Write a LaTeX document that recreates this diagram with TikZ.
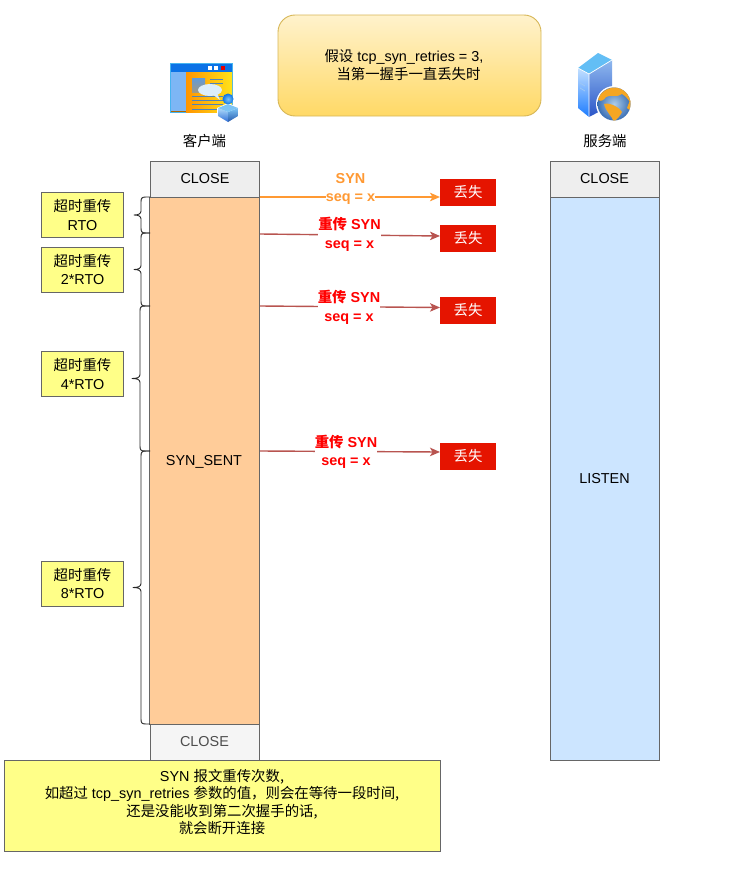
\documentclass[tikz,border=0pt]{standalone}
\usepackage{fontspec}
\setmainfont{Liberation Sans}
\newfontfamily\cjk{Noto Sans CJK SC}
\newcommand{\zh}[1]{{\cjk #1}}
\usetikzlibrary{arrows.meta,calc}
\definecolor{edgegrey}{HTML}{666666}
\definecolor{closefill}{HTML}{EEEEEE}
\definecolor{closefilltwo}{HTML}{F5F5F5}
\definecolor{closetext}{HTML}{4D4D4D}
\definecolor{sentfill}{HTML}{FFCC99}
\definecolor{listenfill}{HTML}{CCE5FF}
\definecolor{notefill}{HTML}{FFFF88}
\definecolor{lostred}{HTML}{E51400}
\definecolor{firstarrow}{HTML}{FF9933}
\definecolor{retryarrow}{HTML}{B85450}
\definecolor{gradtop}{HTML}{FFF2CC}
\definecolor{gradbot}{HTML}{FFD966}
\definecolor{gradedge}{HTML}{D6B656}
\definecolor{iconbar}{HTML}{0B72E6}
\definecolor{iconedge}{HTML}{45B4F0}
\definecolor{iconpane}{HTML}{7DB6F5}
\definecolor{iconorange}{HTML}{FF9500}
\definecolor{iconyellow}{HTML}{FFE21A}
\definecolor{iconline}{HTML}{4F83B8}
\definecolor{iconpict}{HTML}{5F9BDC}
\definecolor{iconbubble}{HTML}{DCEEFA}
\definecolor{iconbody}{HTML}{2F6FD8}
\definecolor{iconlight}{HTML}{7CC4F5}
\definecolor{srvtop}{HTML}{63BEF5}
\definecolor{srvleftt}{HTML}{C4E0FF}
\definecolor{srvleftb}{HTML}{1C7CFF}
\definecolor{srvrightt}{HTML}{8FB8EE}
\definecolor{srvrightb}{HTML}{2A55C8}
\definecolor{globeblue}{HTML}{78ACDC}
\definecolor{globeedge}{HTML}{2F66B0}
\definecolor{landcolor}{HTML}{F5A623}
\tikzset{
  base/.style={inner sep=0pt,outer sep=0pt,font=\fontsize{14.4}{17.4}\selectfont,align=center,text=black},
  statebox/.style={base,draw=edgegrey,line width=1pt,minimum width=#1},
  rtobox/.style={base,draw=edgegrey,line width=1pt,fill=notefill,minimum width=82pt,minimum height=45pt,font=\fontsize{14.4}{18.6}\selectfont},
  lostbox/.style={base,fill=lostred,text=white,minimum width=56pt,minimum height=27pt},
  firstlink/.style={draw=firstarrow,line width=1.4pt,-{Stealth[length=10pt,width=8.5pt,inset=2.5pt]}},
  retrylink/.style={draw=retryarrow,line width=1.4pt,-{Stealth[length=10pt,width=8.5pt,inset=2.5pt]}},
  linklabel/.style={base,fill=white,font=\fontsize{14.4}{18.6}\selectfont\bfseries},
  bracepath/.style={draw=black!85,line width=0.9pt,line join=round},
}
\newcommand{\bracket}[4]{% top, bottom, spine x, tip x
  \pgfmathsetmacro{\bmid}{(#1+#2)/2}
  \draw[bracepath] (150,#1) -- (#3+5,#1) .. controls (#3+1,#1) and (#3,#1+1) .. (#3,#1+5)
    -- (#3,\bmid-4) .. controls (#3,\bmid-1) and (#3-3,\bmid) .. (#4,\bmid)
    .. controls (#3-3,\bmid) and (#3,\bmid+1) .. (#3,\bmid+4)
    -- (#3,#2-5) .. controls (#3,#2-1) and (#3+1,#2) .. (#3+5,#2) -- (150,#2);
}
\begin{document}
\begin{tikzpicture}[x=1pt,y=-1pt]
\useasboundingbox (0,0) rectangle (742,870);
% note on top
\shade[top color=gradtop,bottom color=gradbot,rounded corners=17pt] (278,15) rectangle (541,116);
\draw[gradedge,line width=0.9pt,rounded corners=17pt] (278,15) rectangle (541,116);
\node[base,font=\fontsize{14.4}{18.6}\selectfont] (assume) at (404,65)
  {\zh{假设} tcp\_syn\_retries = 3,\\\hspace*{9pt}\zh{当第一握手一直丢失时}};

% client icon
\fill[iconedge] (170,63) rectangle (233,113);
\fill[iconbar] (171,64) rectangle (232,72);
\shade[left color=iconorange,right color=iconyellow] (186,72) rectangle (232,112);
\fill[iconpane] (171,72) rectangle (186,110.5);
\fill[iconorange!70!black] (171,110.5) rectangle (186,112);
\fill[white] (207.5,65.5) rectangle (211.5,69.5);
\fill[white] (214,65.5) rectangle (218,69.5);
\fill[red!90!black] (221,65.5) rectangle (225,69.5);
\shade[top color=iconpict,bottom color=iconpict!60!iconorange] (192,78) rectangle (205,92);
\foreach \yy in {79,83}{
  \draw[iconline,line width=1pt] (210,\yy) -- (223,\yy);
}
\foreach \yy in {96,100,104,109}{
  \draw[iconline,line width=1pt] (192,\yy) -- (223,\yy);
}
\fill[iconbubble] (210,90) ellipse (12pt and 6pt);
\fill[iconbubble] (212,94) -- (220,100) -- (217,93) -- cycle;
\fill[white] (228,103) -- (239,108) -- (239,117) -- (228,123) -- (217,117) -- (217,108) -- cycle;
\shade[inner color=iconlight,outer color=iconbar] (228,99) circle (5.5pt);
\shade[top color=iconlight!60!white,bottom color=iconbody] (218,108) -- (228,112) -- (228,122) -- (218,116) -- cycle;
\shade[top color=iconlight,bottom color=iconbody!80!black] (228,112) -- (238,108) -- (238,116) -- (228,122) -- cycle;
\fill[iconlight] (218,108) -- (228,104) -- (238,108) -- (228,112) -- cycle;

% server icon
\shade[top color=srvleftt,bottom color=srvleftb] (578,68) -- (589,74) -- (589,117) -- (578,108) -- cycle;
\shade[top color=srvrightt,bottom color=srvrightb] (589,74) -- (612,60) -- (612,105) -- (589,117) -- cycle;
\fill[srvtop] (578,68) -- (598,53) -- (612,60) -- (589,74) -- cycle;
\draw[white,line width=0.7pt,line join=round] (578,68) -- (589,74) -- (612,60) (589,74) -- (589,117);
\draw[white!60!iconbar,line width=0.8pt] (580,83) -- (585,86) (580,88) -- (585,91);
\fill[white] (614,104) circle (18pt);
\begin{scope}
\clip (614,104) circle (16.5pt);
\shade[inner color=globeblue!60!white,outer color=globeedge] (614,104) circle (18pt);
\fill[landcolor] (598,100) .. controls (600,90) and (612,86) .. (622,87) .. controls (628,90) and (632,96) .. (632,104) .. controls (628,100) and (626,96) .. (622,94) .. controls (618,98) and (610,94) .. (606,97) .. controls (604,100) and (601,102) .. (598,100) -- cycle;
\fill[landcolor] (604,104) .. controls (610,102) and (620,108) .. (622,112) .. controls (620,116) and (618,118) .. (614,122) .. controls (612,116) and (606,112) .. (604,104) -- cycle;
\fill[landcolor] (630,100) -- (634,104) -- (632,112) -- (627,108) -- cycle;
\end{scope}

\node[base] (client) at (204.5,141) {\zh{客户端}};
\node[base] (server) at (605,141) {\zh{服务端}};

% client lifeline
\node[statebox=109pt,fill=closefill,minimum height=36pt] (cclose) at (205,179) {CLOSE};
\node[statebox=109.5pt,fill=sentfill,minimum height=527pt] (sent) at (204.5,460.5) {};
\node[base] (senttext) at (204,461.5) {SYN\_SENT};
\node[statebox=109pt,fill=closefilltwo,text=closetext,minimum height=36pt] (cclosetwo) at (204.5,742) {CLOSE};

% server lifeline
\node[statebox=109pt,fill=closefill,minimum height=36pt] (sclose) at (604.5,179) {CLOSE};
\node[statebox=109pt,fill=listenfill,minimum height=563pt] (listen) at (604.5,478.5) {LISTEN};

% lost boxes
\node[lostbox] (lostone) at (468,192.5) {\zh{丢失}};
\node[lostbox] (losttwo) at (468,238) {\zh{丢失}};
\node[lostbox] (lostthree) at (468,310.5) {\zh{丢失}};
\node[lostbox] (lostfour) at (468,456) {\zh{丢失}};

% connectors
\coordinate (fromone) at (260,197);
\coordinate (fromtwo) at (260,234);
\coordinate (fromthree) at (260,306);
\coordinate (fromfour) at (260,451);
\path[firstlink] (fromone) -- ([yshift=-4.5pt]lostone.west);
\path[retrylink] (fromtwo) -- ([yshift=2pt]losttwo.west);
\path[retrylink] (fromthree) -- ([yshift=3pt]lostthree.west);
\path[retrylink] (fromfour) -- ([yshift=4pt]lostfour.west);

\node[linklabel,text=firstarrow] (labelone) at (350.5,189) {SYN\\seq = x};
\node[linklabel,text=red] (labeltwo) at (349.5,234.5) {\zh{重传} SYN\\seq = x};
\node[linklabel,text=red] (labelthree) at (349,307.5) {\zh{重传} SYN\\seq = x};
\node[linklabel,text=red] (labelfour) at (346,452) {\zh{重传} SYN\\seq = x};

% braces
\bracket{197}{233}{141}{134}
\bracket{233}{306}{141}{134}
\bracket{306}{451}{140}{132}
\bracket{451}{724}{141}{133}

% RTO boxes
\node[rtobox] (rtoone) at (82.5,215) {\zh{超时重传}\\RTO};
\node[rtobox] (rtotwo) at (82.5,269.5) {\zh{超时重传}\\2*RTO};
\node[rtobox] (rtothree) at (82.5,374) {\zh{超时重传}\\4*RTO};
\node[rtobox] (rtofour) at (82.5,583.5) {\zh{超时重传}\\8*RTO};

% bottom note
\node[base,draw=edgegrey,line width=1pt,fill=notefill,minimum width=436.5pt,minimum height=91pt,anchor=north west] (note) at (4,760) {};
\node[base] (notetext) at (222,802)
  {SYN \zh{报文重传次数,}\\\zh{如超过} tcp\_syn\_retries \zh{参数的值，则会在等待一段时间,}\\\zh{还是没能收到第二次握手的话,}\\\zh{就会断开连接}};
\end{tikzpicture}
\end{document}
